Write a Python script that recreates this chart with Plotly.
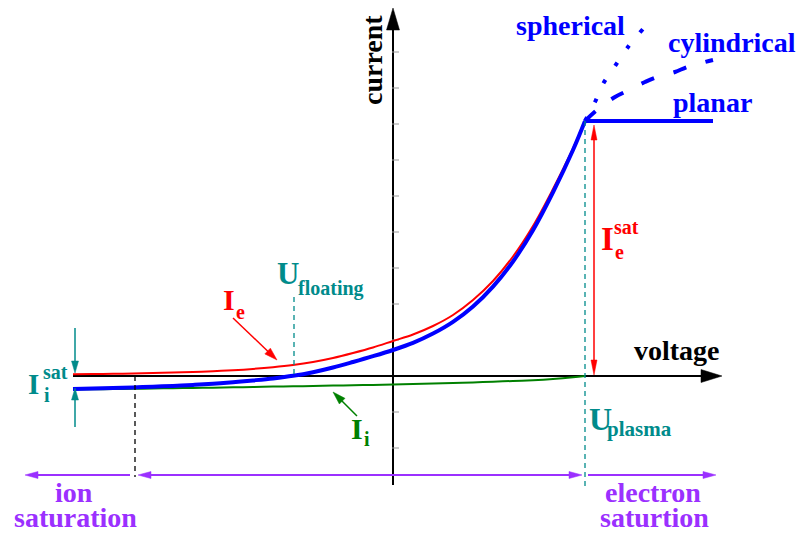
import math
import plotly.graph_objects as go

# ---------------- data (voltage / current in arbitrary units) ----------------
voltage = [-32, -30, -28, -26, -24, -22, -20, -18, -16, -14, -12, -10, -8, -6, -4, -2,
           0, 2, 4, 6, 8, 10, 12, 14, 16, 18, 19.2]
electron_current = [0.17, 0.19, 0.22, 0.25, 0.29, 0.34, 0.40, 0.48, 0.58, 0.71, 0.88, 1.10,
                    1.40, 1.80, 2.30, 2.85, 3.50, 4.15, 5.00, 6.10, 7.60, 9.50, 11.95, 15.00,
                    18.70, 22.75, 25.50]
ion_current = [-1.35, -1.33, -1.30, -1.28, -1.25, -1.22, -1.20, -1.17, -1.13, -1.10, -1.06,
               -1.03, -1.00, -0.96, -0.92, -0.89, -0.85, -0.80, -0.75, -0.70, -0.64, -0.57,
               -0.50, -0.42, -0.30, -0.13, 0.0]
total_current = [-1.30, -1.25, -1.20, -1.14, -1.07, -0.99, -0.89, -0.77, -0.62, -0.44, -0.24,
                 0.02, 0.38, 0.85, 1.40, 1.98, 2.60, 3.31, 4.24, 5.41, 6.95, 8.94, 11.45,
                 14.58, 18.37, 22.60, 25.50]

planar_v = [19.2, 32.0]
planar_i = [25.5, 25.5]
cyl_v = [19.2, 20.4, 22.2, 23.4, 25.2, 26.4, 28.2, 29.4, 31.2, 32.0]
cyl_i = [25.5, 26.6, 27.9, 28.5, 29.4, 29.9, 30.4, 30.9, 31.4, 31.6]
sph_v = [19.2, 20.2, 21.0, 22.2, 23.5, 25.0]
sph_i = [25.5, 27.4, 29.2, 31.0, 32.9, 34.7]

U_PLASMA = 19.2
U_FLOATING = -9.9
IE_SAT = 25.5
V_ION_SAT_EDGE = -25.8
axis_ticks = [-7.2, -3.6, 3.6, 7.2, 10.8, 14.4, 18.0, 21.6, 25.2, 28.8, 32.4]

# ---------------- styles ----------------
BLUE = "#0000FF"
RED = "#FF0000"
GREEN = "#008000"
TEAL = "#008B8B"
PURPLE = "#9B30FF"
FONT = "Liberation Serif"

X_RANGE = [-39.3, 40.8]
Y_RANGE = [-15.8, 37.6]
W, H = 801, 534
PX_X = W / (X_RANGE[1] - X_RANGE[0])
PX_Y = H / (Y_RANGE[1] - Y_RANGE[0])

fig = go.Figure()
shapes = []
annotations = []


def seg(x0, y0, x1, y1, color, width, dash="solid", layer="above"):
    shapes.append(dict(type="line", xref="x", yref="y", x0=x0, y0=y0, x1=x1, y1=y1,
                       line=dict(color=color, width=width, dash=dash), layer=layer))


def head(xt, yt, ux, uy, color, length, hw, layer="above"):
    # pixel-sized filled triangle with tip at (xt, yt) pointing along (ux, uy)
    px, py = -uy, ux
    bx, by = -ux * length, -uy * length
    path = (f"M0,0 L{bx + px * hw:.2f},{by + py * hw:.2f} "
            f"L{bx - px * hw:.2f},{by - py * hw:.2f} Z")
    shapes.append(dict(type="path", xref="x", yref="y", xsizemode="pixel", ysizemode="pixel",
                       xanchor=xt, yanchor=yt, path=path, fillcolor=color,
                       line=dict(color=color, width=0.5), layer=layer))


def arrow(x0, y0, x1, y1, color, width, length, hw, both=False, layer="above"):
    dxp = (x1 - x0) * PX_X
    dyp = (y1 - y0) * PX_Y
    d = math.hypot(dxp, dyp)
    ux, uy = dxp / d, dyp / d
    ex, ey = x1 - ux * (length - 1) / PX_X, y1 - uy * (length - 1) / PX_Y
    sx, sy = x0, y0
    if both:
        sx, sy = x0 + ux * (length - 1) / PX_X, y0 + uy * (length - 1) / PX_Y
        head(x0, y0, -ux, -uy, color, length, hw, layer)
    seg(sx, sy, ex, ey, color, width, layer=layer)
    head(x1, y1, ux, uy, color, length, hw, layer)


def text(x, y, s, color, size, angle=0):
    annotations.append(dict(x=x, y=y, xref="x", yref="y", text=f"<b>{s}</b>", showarrow=False,
                            textangle=angle, xanchor="center", yanchor="middle", borderpad=0,
                            font=dict(family=FONT, size=size, color=color)))


# ---------------- axes ----------------
arrow(voltage[0], 0, 32.9, 0, "black", 2, 21, 6.5, layer="below")
arrow(0, -10.9, 0, 36.8, "black", 2, 22, 6.5, layer="below")

# ---------------- dashed guide lines ----------------
seg(V_ION_SAT_EDGE, 0, V_ION_SAT_EDGE, -10.1, "black", 1.3, "5px,4px")
seg(U_PLASMA, IE_SAT, U_PLASMA, -11.4, TEAL, 1.3, "5px,4px")
seg(U_FLOATING, 7.9, U_FLOATING, 0, TEAL, 1.3, "5px,4px")

# ---------------- arrows ----------------
arrow(20.1, 0.1, 20.1, 25.1, RED, 1.5, 15, 3, both=True)
arrow(-16.0, 5.8, -11.6, 1.6, RED, 1.5, 13, 4)
arrow(-3.6, -4.0, -6.0, -1.6, GREEN, 1.5, 13, 4)
arrow(-31.8, 4.8, -31.8, 0.3, TEAL, 1.5, 12, 3.5)
arrow(-31.8, -5.1, -31.8, -1.2, TEAL, 1.5, 12, 3.5)
arrow(-26.3, -9.9, -36.8, -9.9, PURPLE, 2, 13, 3.5)
arrow(-25.5, -9.9, 18.9, -9.9, PURPLE, 2, 13, 3.5, both=True)
arrow(19.5, -9.9, 32.3, -9.9, PURPLE, 2, 13, 3.5)

# ---------------- tiny ticks on the current axis ----------------
fig.add_trace(go.Scatter(x=[0.25] * len(axis_ticks), y=axis_ticks, mode="markers",
                         marker=dict(symbol="line-ew", size=5, line=dict(color="#999999", width=1)),
                         hoverinfo="skip", showlegend=False))

# ---------------- curves ----------------
fig.add_trace(go.Scatter(x=voltage, y=ion_current, mode="lines",
                         line=dict(color=GREEN, width=2, shape="spline", smoothing=1.0),
                         showlegend=False))
fig.add_trace(go.Scatter(x=voltage, y=electron_current, mode="lines",
                         line=dict(color=RED, width=2, shape="spline", smoothing=1.0),
                         showlegend=False))
fig.add_trace(go.Scatter(x=voltage, y=total_current, mode="lines",
                         line=dict(color=BLUE, width=4, shape="spline", smoothing=1.0),
                         showlegend=False))
fig.add_trace(go.Scatter(x=planar_v, y=planar_i, mode="lines",
                         line=dict(color=BLUE, width=4), showlegend=False))
fig.add_trace(go.Scatter(x=cyl_v, y=cyl_i, mode="lines",
                         line=dict(color=BLUE, width=4, dash="14px,20px", shape="spline"),
                         showlegend=False))
fig.add_trace(go.Scatter(x=sph_v, y=sph_i, mode="lines",
                         line=dict(color=BLUE, width=4, dash="4px,17px", shape="spline"),
                         showlegend=False))

# ---------------- labels ----------------
text(-2.1, 31.6, "current", "black", 28, angle=-90)
text(28.4, 2.6, "voltage", "black", 28)
text(17.7, 35.1, "spherical", BLUE, 28)
text(33.9, 33.4, "cylindrical", BLUE, 28)
text(31.9, 27.4, "planar", BLUE, 28)

text(21.4, 13.7, "I", RED, 33)
text(22.6, 12.4, "e", RED, 20)
text(23.3, 14.9, "sat", RED, 20)

text(-10.5, 10.3, "U", TEAL, 31)
text(-6.2, 8.8, "floating", TEAL, 20)

text(-16.4, 7.7, "I", RED, 30)
text(-15.3, 6.4, "e", RED, 20)

text(-3.6, -5.2, "I", GREEN, 30)
text(-2.6, -6.3, "i", GREEN, 20)

text(20.7, -4.3, "U", TEAL, 32)
text(24.6, -5.3, "plasma", TEAL, 21)

text(-36.0, -0.8, "I", TEAL, 29)
text(-34.6, -1.9, "i", TEAL, 20)
text(-33.8, 0.4, "sat", TEAL, 20)

text(-31.9, -11.6, "ion", PURPLE, 28)
text(-31.8, -14.1, "saturation", PURPLE, 28)
text(26.0, -11.6, "electron", PURPLE, 28)
text(26.1, -14.1, "saturtion", PURPLE, 28)

fig.update_layout(
    width=W, height=H,
    margin=dict(l=0, r=0, t=0, b=0, pad=0),
    paper_bgcolor="white", plot_bgcolor="white",
    xaxis=dict(range=X_RANGE, visible=False, fixedrange=True),
    yaxis=dict(range=Y_RANGE, visible=False, fixedrange=True),
    shapes=shapes, annotations=annotations,
    showlegend=False,
)

fig.write_html("out.html", config={"displayModeBar": False},
               post_script="document.body.style.margin='0';")
